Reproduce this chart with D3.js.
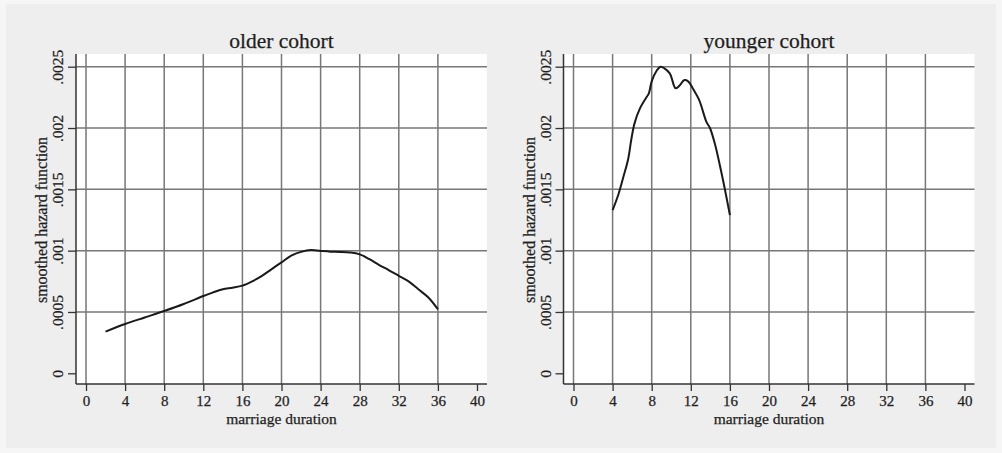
<!DOCTYPE html>
<html>
<head>
<meta charset="utf-8">
<script src="https://cdn.jsdelivr.net/npm/d3@7"></script>
<style>
  body { margin: 0; background: #f6f6f6; }
  text { font-family: "Liberation Serif", "DejaVu Serif", serif; fill: #1e1e1e; stroke: #1e1e1e; stroke-width: 0.25px; }
</style>
</head>
<body>
<div id="wrapper"></div>
<script>
// tick values
const xTicks = [0, 4, 8, 12, 16, 20, 24, 28, 32, 36, 40]
const yTicks = [0, 0.0005, 0.001, 0.0015, 0.002, 0.0025]
const yTickLabels = ["0", ".0005", ".001", ".0015", ".002", ".0025"]

// older cohort
const olderDuration = [2, 4, 6, 8, 10, 12, 13, 14, 15, 16, 17, 18, 19, 20, 21, 22, 23, 24, 25, 26, 27, 28, 29, 30, 31, 32, 33, 34, 35, 36]
const olderHazard = [0.00034, 0.000402, 0.000455, 0.000508, 0.000565, 0.00063, 0.00066, 0.000685, 0.000698, 0.000715, 0.00075, 0.000795, 0.00085, 0.000905, 0.00096, 0.00099, 0.001005, 0.000998, 0.000992, 0.00099, 0.000985, 0.00097, 0.00093, 0.000883, 0.00084, 0.000795, 0.00075, 0.000685, 0.00062, 0.000522]

// younger cohort
const youngerDuration = [4, 4.6, 5.1, 5.6, 5.9, 6.25, 6.8, 7.5, 7.7, 8.0, 8.5, 8.9, 9.3, 9.85, 10.45, 10.9, 11.3, 11.7, 12.2, 12.85, 13.6, 13.96, 14.45, 14.96, 15.5, 16]
const youngerHazard = [0.00133, 0.00146, 0.0016, 0.00175, 0.0019, 0.00204, 0.00216, 0.002255, 0.00228, 0.00238, 0.002467, 0.0025, 0.002487, 0.002446, 0.002324, 0.00235, 0.00239, 0.002383, 0.002324, 0.002229, 0.00205, 0.002, 0.001875, 0.0017, 0.001495, 0.00129]

const panels = [
    { title: "older cohort", xs: olderDuration, ys: olderHazard, left: 76 },
    { title: "younger cohort", xs: youngerDuration, ys: youngerHazard, left: 563.5 },
]

const dimensions = {
    width: 1002,
    height: 453,
    plotWidth: 411,
    top: 54,
    bottom: 384,
}

const wrapper = d3.select("#wrapper")
    .append("svg")
    .attr("width", dimensions.width)
    .attr("height", dimensions.height)

wrapper.append("rect")
    .attr("x", 6)
    .attr("y", 4)
    .attr("width", 990)
    .attr("height", 444)
    .attr("fill", "#eeeeee")

function drawPanel(panel) {
    const bounds = wrapper.append("g")
        .attr("transform", `translate(${panel.left}, 0)`)

    const xScale = d3.scaleLinear()
        .domain([0, 40])
        .range([10, dimensions.plotWidth - 10])

    const yScale = d3.scaleLinear()
        .domain([0, 0.0025])
        .range([373.3, 66.7])

    bounds.append("rect")
        .attr("x", 0)
        .attr("y", dimensions.top)
        .attr("width", dimensions.plotWidth)
        .attr("height", dimensions.bottom - dimensions.top)
        .attr("fill", "white")

    // grid
    bounds.selectAll(".vgrid")
        .data(xTicks.filter(d => d < 40))
        .join("line")
        .attr("x1", d => xScale(d))
        .attr("x2", d => xScale(d))
        .attr("y1", dimensions.top)
        .attr("y2", dimensions.bottom)
        .attr("stroke", "#777")
        .attr("stroke-width", 1.5)

    bounds.selectAll(".hgrid")
        .data(yTicks.filter(d => d > 0))
        .join("line")
        .attr("x1", 0)
        .attr("x2", dimensions.plotWidth)
        .attr("y1", d => yScale(d))
        .attr("y2", d => yScale(d))
        .attr("stroke", "#777")
        .attr("stroke-width", 1.5)

    // axes
    const xAxis = bounds.append("g")
        .attr("transform", `translate(0, ${dimensions.bottom})`)
        .call(d3.axisBottom(xScale).tickValues(xTicks).tickSize(7).tickPadding(4))
    xAxis.select(".domain").attr("d", `M0,0H${dimensions.plotWidth}`)
        .attr("stroke", "#333").attr("stroke-width", 1.5)
    xAxis.selectAll(".tick line").attr("stroke", "#333").attr("stroke-width", 1.3)
    xAxis.selectAll(".tick text")
        .style("font-family", "Liberation Serif")
        .style("font-size", "15px")
        .attr("fill", "#1e1e1e")

    const yAxis = bounds.append("g")
        .call(d3.axisLeft(yScale).tickValues(yTicks).tickSize(8).tickFormat((d, i) => yTickLabels[i]))
    yAxis.select(".domain").attr("d", `M0,${dimensions.top}V${dimensions.bottom}`)
        .attr("stroke", "#333").attr("stroke-width", 1.5)
    yAxis.selectAll(".tick line").attr("stroke", "#333").attr("stroke-width", 1.3)
    yAxis.selectAll(".tick text")
        .attr("x", null)
        .attr("dy", null)
        .attr("transform", "translate(-13, 0) rotate(-90)")
        .style("text-anchor", "middle")
        .style("font-family", "Liberation Serif")
        .style("font-size", "15.5px")
        .attr("fill", "#1e1e1e")

    // labels
    bounds.append("text")
        .attr("x", dimensions.plotWidth / 2)
        .attr("y", 48)
        .style("text-anchor", "middle")
        .style("font-size", "21.5px")
        .text(panel.title)

    bounds.append("text")
        .attr("x", xScale(20))
        .attr("y", 424)
        .style("text-anchor", "middle")
        .style("font-size", "15.5px")
        .text("marriage duration")

    bounds.append("text")
        .attr("transform", `translate(-29, 220) rotate(-90)`)
        .style("text-anchor", "middle")
        .style("font-size", "16px")
        .text("smoothed hazard function")

    // curve
    const line = d3.line()
        .x((d, i) => xScale(panel.xs[i]))
        .y(d => yScale(d))
        .curve(d3.curveCatmullRom)

    bounds.append("path")
        .attr("d", line(panel.ys))
        .attr("fill", "none")
        .attr("stroke", "#1a1a1a")
        .attr("stroke-width", 2)
}

panels.forEach(drawPanel)
</script>
</body>
</html>
